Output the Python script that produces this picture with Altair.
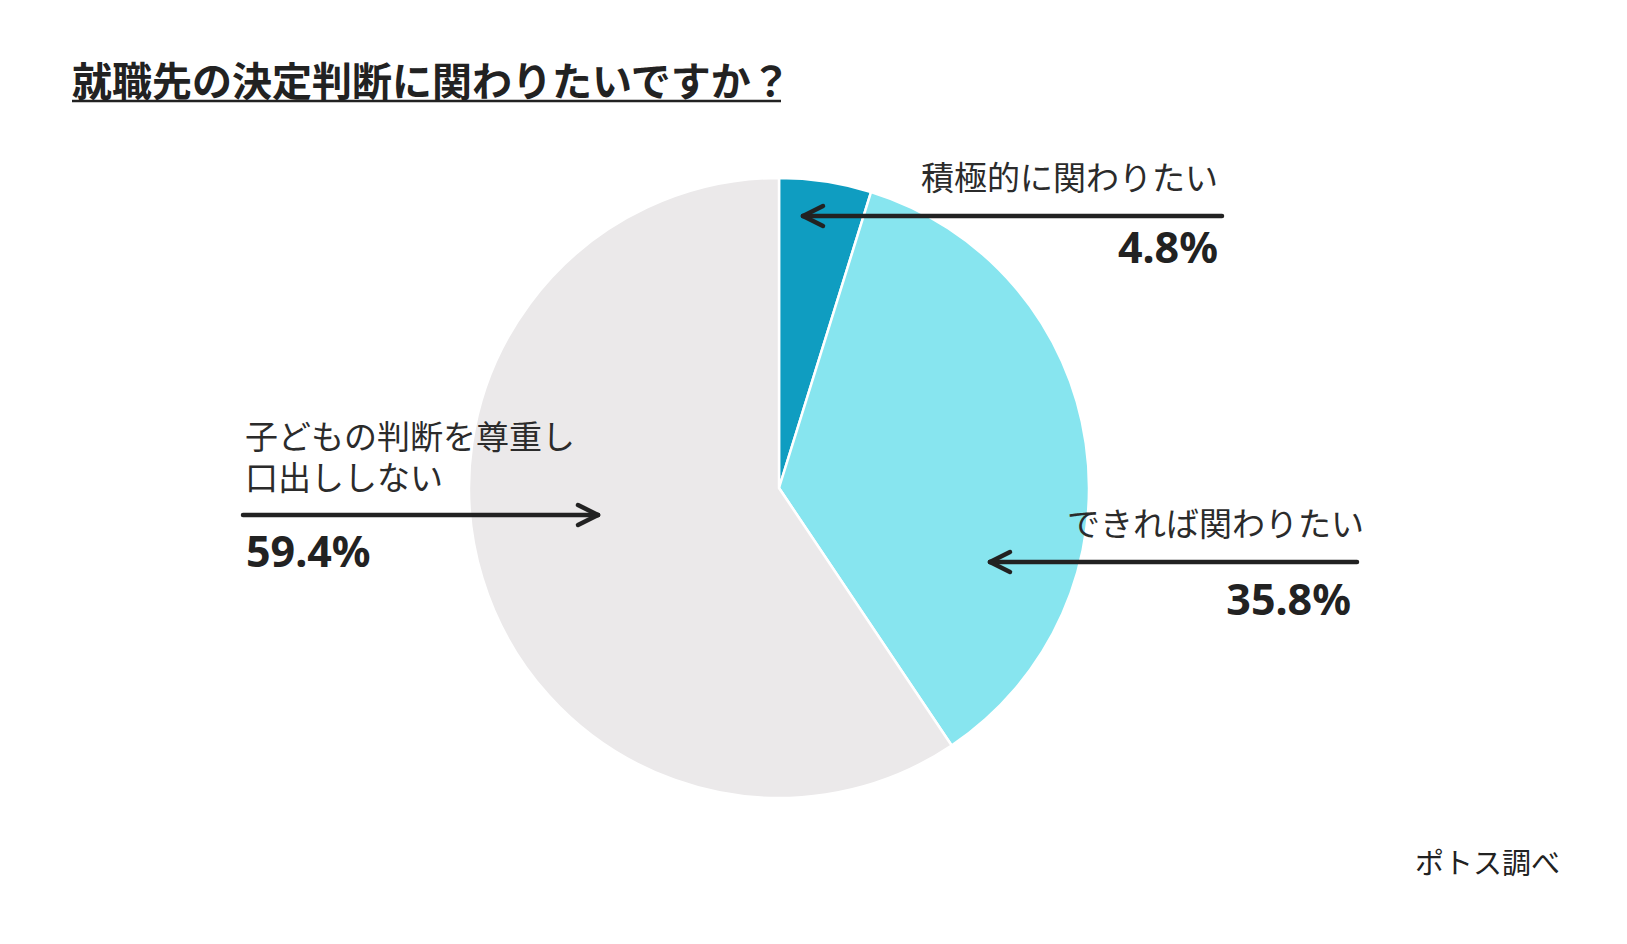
import altair as alt
import pandas as pd

# ---------------- data ----------------
title_text = "就職先の決定判断に関わりたいですか？"
categories = ["積極的に関わりたい", "できれば関わりたい", "子どもの判断を尊重し口出ししない"]
label_lines = [["積極的に関わりたい"], ["できれば関わりたい"], ["子どもの判断を尊重し", "口出ししない"]]
values = [4.8, 35.8, 59.4]
source_text = "ポトス調べ"

# ---------------- styles / layout ----------------
colors = ["#0f9dc1", "#87e5ef", "#ebe9ea"]
ink = "#222222"
JP = "Noto Sans CJK JP"
NUM = "Noto Sans"
W, H = 1611, 928
M = 8  # page margin: layout below is given in page pixels


def px(v):
    return v - M


CX, CY, R = px(779), px(488), 310

# label anchors (page pixels)
anchors = [
    dict(tx=1218, ty=190, px_=1218, py=263, a0=1222, a1=803, ay=216, align="right"),
    dict(tx=1364, ty=536, px_=1351, py=615, a0=1357, a1=990, ay=562, align="right"),
    dict(tx=245, ty=449, px_=246, py=567, a0=243, a1=598, ay=515, align="left"),
]
LINE_STEP = 41
HEAD_DX, HEAD_DY = 20, 10

# ---------------- pie ----------------
pie_df = pd.DataFrame({"category": categories, "value": values, "order": [0, 1, 2]})
pie = alt.Chart(pie_df).mark_arc(
    radius=R, x=CX, y=CY, stroke="white", strokeWidth=2.5
).encode(
    theta=alt.Theta("value:Q", stack=True),
    order=alt.Order("order:Q"),
    color=alt.Color("category:N", scale=alt.Scale(domain=categories, range=colors), legend=None),
)

# ---------------- annotation tables ----------------
txt_rows, pct_rows, seg_rows = [], [], []
for i, a in enumerate(anchors):
    for j, line in enumerate(label_lines[i]):
        txt_rows.append(dict(t=line, x=px(a["tx"]), y=px(a["ty"] + j * LINE_STEP), align=a["align"]))
    pct_rows.append(dict(t=f"{values[i]}%", x=px(a["px_"]), y=px(a["py"]), align=a["align"]))
    seg_rows.append(dict(x=px(a["a0"]), x2=px(a["a1"]), y=px(a["ay"]), y2=px(a["ay"])))
    d = HEAD_DX if a["a1"] < a["a0"] else -HEAD_DX
    for s in (-1, 1):
        seg_rows.append(dict(x=px(a["a1"]), x2=px(a["a1"] + d), y=px(a["ay"]), y2=px(a["ay"] + s * HEAD_DY)))

txt_df = pd.DataFrame(txt_rows)
pct_df = pd.DataFrame(pct_rows)
seg_df = pd.DataFrame(seg_rows)

layers = [pie]
for al in ("left", "right"):
    layers.append(
        alt.Chart(txt_df[txt_df["align"] == al]).mark_text(
            align=al, baseline="alphabetic", font=JP, fontSize=33, color="#2b2b2b"
        ).encode(x=alt.X("x:Q", scale=None), y=alt.Y("y:Q", scale=None), text="t:N")
    )
    layers.append(
        alt.Chart(pct_df[pct_df["align"] == al]).mark_text(
            align=al, baseline="alphabetic", font=NUM, fontSize=43, fontWeight="bold", color=ink
        ).encode(x=alt.X("x:Q", scale=None), y=alt.Y("y:Q", scale=None), text="t:N")
    )

arrows = alt.Chart(seg_df).mark_rule(strokeWidth=4.5, color=ink, strokeCap="round").encode(
    x=alt.X("x:Q", scale=None), x2="x2:Q", y=alt.Y("y:Q", scale=None), y2="y2:Q"
)
layers.append(arrows)

title_df = pd.DataFrame({"t": [title_text]})
title = alt.Chart(title_df).mark_text(
    align="left", baseline="alphabetic", font=JP, fontSize=40, fontWeight="bold", color=ink
).encode(x=alt.value(px(72)), y=alt.value(px(96)), text="t:N")
underline = alt.Chart(title_df).mark_rule(strokeWidth=2.5, color=ink).encode(
    x=alt.value(px(72)), x2=alt.value(px(781)), y=alt.value(px(101))
)
source = alt.Chart(pd.DataFrame({"t": [source_text]})).mark_text(
    align="right", baseline="alphabetic", font=JP, fontSize=29, color=ink
).encode(x=alt.value(px(1560)), y=alt.value(px(874)), text="t:N")

layers += [title, underline, source]

chart = alt.layer(*layers).properties(
    width=W, height=H, padding=0, autosize=alt.AutoSizeParams(type="none"), background="white"
).configure_view(stroke=None)

chart.save("out.html", embed_options={"renderer": "svg", "actions": False})
